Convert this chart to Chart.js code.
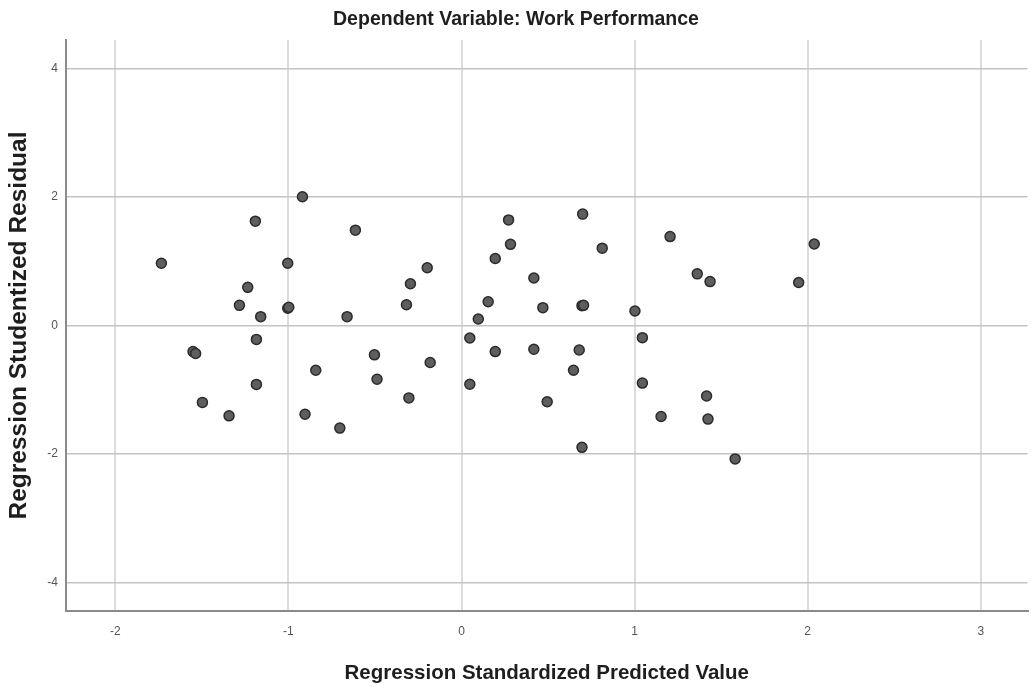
<!DOCTYPE html>
<html>
<head>
<meta charset="utf-8">
<title>Scatterplot</title>
<script src="https://cdn.jsdelivr.net/npm/chart.js@4/dist/chart.umd.min.js"></script>
<style>
  html, body { margin: 0; padding: 0; background: #fff; }
  #wrap { width: 1034px; height: 691px; }
</style>
</head>
<body>
<div id="wrap"><canvas id="scatter"></canvas></div>
<script>
// regression standardized predicted value (x) and studentized residual (y)
let predicted = [
  -0.919, -1.191, -0.613, -1.734, -1.004, -1.235, -1.283, -1.004, -0.998, -1.16,
  -0.661, -1.185, -1.551, -1.536, -0.503, -0.842, -0.488, -1.185, -1.497, -1.343,
  -0.904, -0.703, -0.198, -0.295, -0.318, -0.181, -0.304, 0.272, 0.283, 0.195,
  0.418, 0.154, 0.47, 0.097, 0.048, 0.195, 0.418, 0.048, 0.495, 0.70,
  0.813, 0.696, 0.705, 0.68, 0.647, 0.696, 1.205, 1.002, 1.045, 1.045,
  1.153, 1.362, 1.436, 1.416, 1.424, 2.038, 1.948, 1.581
]
let residual = [
  2.00, 1.62, 1.48, 0.965, 0.965, 0.59, 0.31, 0.265, 0.28, 0.134,
  0.134, -0.22, -0.41, -0.44, -0.46, -0.70, -0.84, -0.92, -1.20, -1.41,
  -1.385, -1.60, 0.895, 0.647, 0.32, -0.58, -1.13, 1.64, 1.26, 1.04,
  0.735, 0.367, 0.274, 0.098, -0.198, -0.41, -0.373, -0.918, -1.19, 1.73,
  1.20, 0.305, 0.31, -0.384, -0.70, -1.90, 1.38, 0.222, -0.193, -0.90,
  -1.42, 0.80, 0.68, -1.10, -1.46, 1.265, 0.665, -2.08
]
let xTicks = [-2, -1, 0, 1, 2, 3]
let yTicks = [-4, -2, 0, 2, 4]

let points = predicted.map((x, i) => ({ x: x, y: residual[i] }))
let fontFamily = "'Liberation Sans', Arial, sans-serif"

new Chart(document.getElementById('scatter'), {
  type: 'scatter',
  data: {
    datasets: [{
      label: 'Residual',
      data: points,
      pointRadius: 5,
      pointBorderWidth: 1.5,
      pointBackgroundColor: '#5e5e5e',
      pointBorderColor: '#2b2b2b',
      pointHoverRadius: 5
    }]
  },
  options: {
    responsive: true,
    maintainAspectRatio: false,
    animation: false,
    layout: { padding: { left: 0, right: 2, top: 0, bottom: 0 } },
    plugins: {
      legend: { display: false },
      tooltip: { enabled: false },
      title: {
        display: true,
        text: 'Dependent Variable: Work Performance',
        color: '#1e1e1e',
        font: { family: fontFamily, size: 19.5, weight: 'bold' },
        padding: { top: 8, bottom: 8.6 }
      }
    },
    scales: {
      x: {
        type: 'linear',
        min: -2.285,
        max: 3.27,
        afterBuildTicks: s => { s.ticks = xTicks.map(v => ({ value: v })) },
        afterFit: s => { s.height = 80 },
        ticks: {
          color: '#555',
          padding: 13,
          font: { family: fontFamily, size: 12 }
        },
        grid: { color: '#dcdcdc', lineWidth: 2, drawTicks: false },
        border: { color: '#8a8a8a', width: 2 },
        title: {
          display: true,
          text: 'Regression Standardized Predicted Value',
          color: '#1e1e1e',
          font: { family: fontFamily, size: 20.5, weight: 'bold' },
          padding: { top: 0, bottom: 5 }
        }
      },
      y: {
        type: 'linear',
        min: -4.447,
        max: 4.44,
        afterBuildTicks: s => { s.ticks = yTicks.map(v => ({ value: v })) },
        afterFit: s => { s.width = 66 },
        ticks: {
          color: '#555',
          padding: 8,
          font: { family: fontFamily, size: 12 }
        },
        grid: { color: '#c4c4c4', lineWidth: 1.5, drawTicks: false },
        border: { color: '#8a8a8a', width: 2 },
        title: {
          display: true,
          text: 'Regression Studentized Residual',
          color: '#1e1e1e',
          font: { family: fontFamily, size: 24.5, weight: 'bold' },
          padding: { top: 5, bottom: 0 }
        }
      }
    }
  }
})
</script>
</body>
</html>
